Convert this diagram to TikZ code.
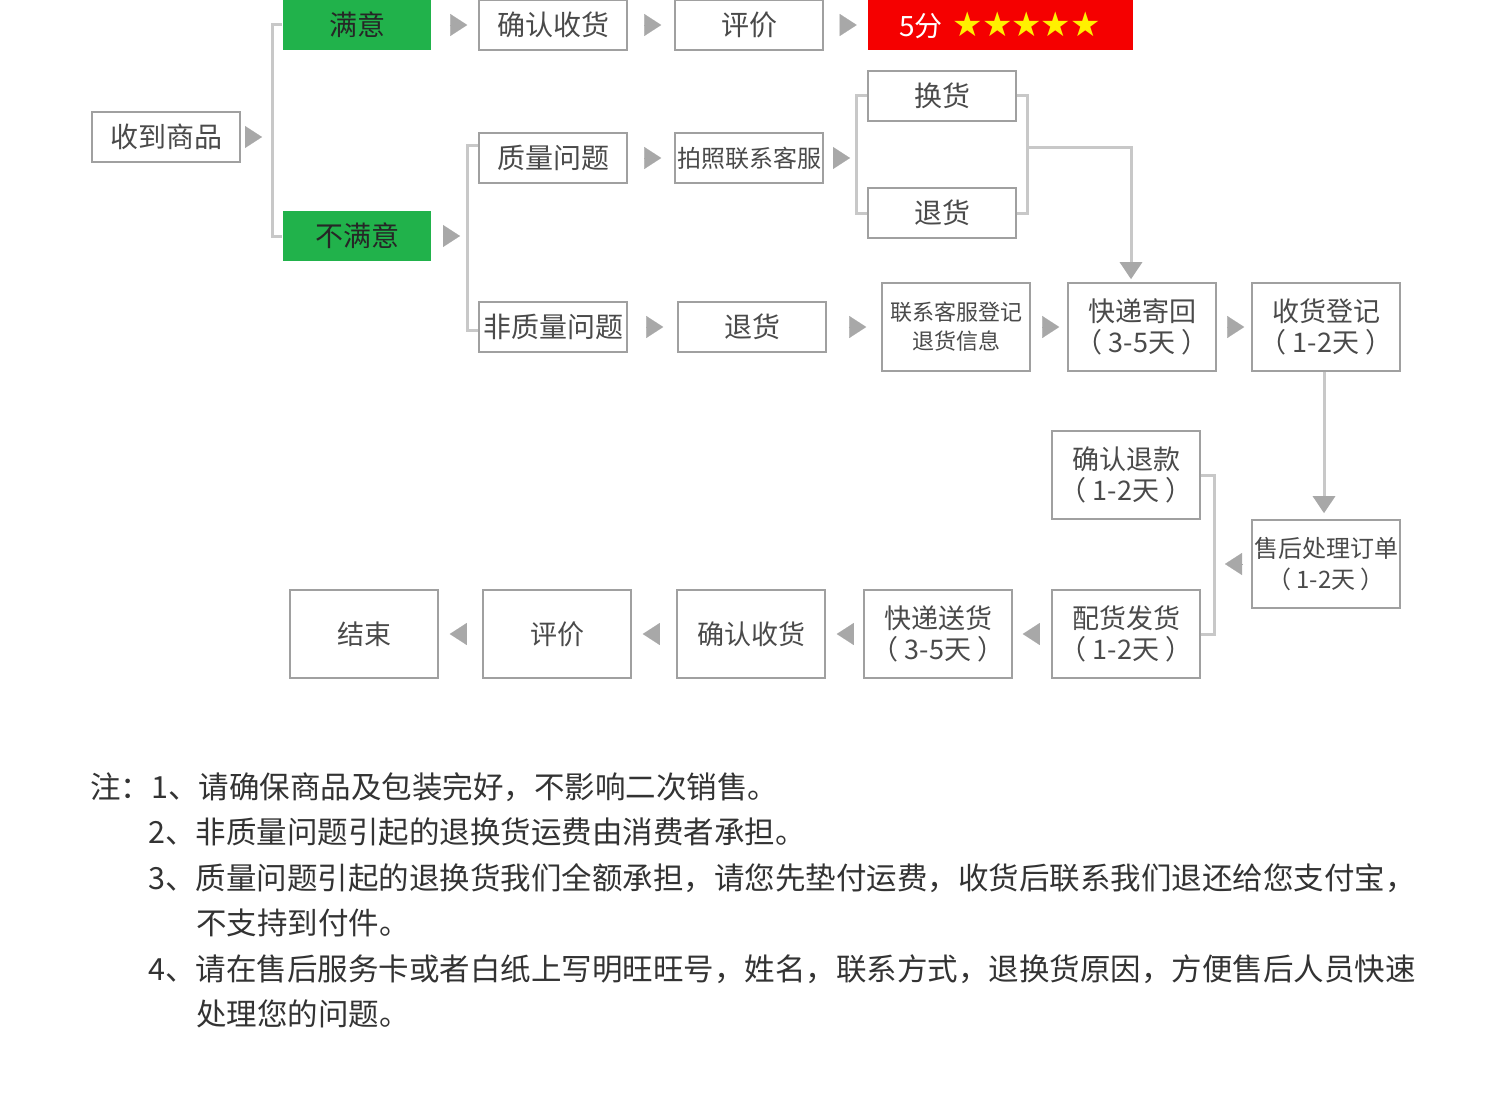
\documentclass[tikz,border=0pt]{standalone}
\usepackage{fontspec}
\setmainfont{Noto Sans CJK SC}
\newfontfamily\symf{DejaVu Sans}
\usetikzlibrary{arrows.meta,calc}

\definecolor{boxline}{HTML}{A0A0A0}
\definecolor{linkgray}{HTML}{C8C8C8}
\definecolor{tipgray}{HTML}{A8A8A8}
\definecolor{txtgray}{HTML}{4A4A4A}
\definecolor{okgreen}{HTML}{21B24B}
\definecolor{scorered}{HTML}{F50000}
\definecolor{staryellow}{HTML}{FFF000}

\tikzset{
  box/.style={draw=boxline, line width=1.6, minimum width=148, minimum height=50,
    inner sep=0, text=txtgray, font=\fontsize{28}{31}\selectfont, align=center},
  tallbox/.style={box, minimum height=88, font=\fontsize{27}{31}\selectfont},
  greenbox/.style={box, draw=none, fill=okgreen, text=black!85},
  link/.style={draw=linkgray, line width=3},
  downtip/.style={-{Triangle[length=17pt,width=22pt,color=tipgray]}},
  nxt/.style args={#1/#2}{draw=tipgray, line width=0.1,
    -{Triangle[length=17pt,width=22pt]}, shorten <=#1, shorten >=#2},
  note/.style={anchor=west, inner sep=0, text=black!80, font=\fontsize{30.5}{34}\selectfont}
}

\begin{document}
\begin{tikzpicture}[x=1pt,y=-1pt,line join=miter]
  \useasboundingbox[fill=white] (0,0) rectangle (1500,1113);

  % first column
  \node[box] (recv) at (166,137) {收到商品};
  \node[greenbox] (ok) at (357,25) {满意};
  \node[greenbox] (nok) at (357,236) {不满意};

  % satisfied
  \node[box] (cf1) at (553,25) {确认收货};
  \node[box] (rate1) at (749,25) {评价};
  \node[box, draw=none, fill=scorered, minimum width=265, text=white] (score) at (1000,25)
    {5分\hspace{10pt}{\symf\fontsize{34}{31}\selectfont\color{staryellow}★\kern-1pt★\kern-1pt★\kern-1pt★\kern-1pt★}};

  % not satisfied
  \node[box] (q) at (553,158) {质量问题};
  \node[box, font=\fontsize{24}{28}\selectfont] (photo) at (749,158) {拍照联系客服};
  \node[box] (swap) at (942,96) {换货};
  \node[box] (ret1) at (942,213) {退货};
  \node[box] (nq) at (553,327) {非质量问题};
  \node[box] (ret2) at (752,327) {退货};
  \node[tallbox, font=\fontsize{22}{29}\selectfont] (reg) at (956,327) {联系客服登记\\退货信息};
  \node[tallbox] (back) at (1142,327) {快递寄回\\（ 3-5天 ）};
  \node[tallbox] (log) at (1326,327) {收货登记\\（ 1-2天 ）};
  \node[tallbox, font=\fontsize{24}{31}\selectfont] (order) at (1326,564) {售后处理订单\\（ 1-2天 ）};
  \node[tallbox] (refund) at (1126,475) {确认退款\\（ 1-2天 ）};
  \node[tallbox] (ship) at (1126,634) {配货发货\\（ 1-2天 ）};
  \node[tallbox] (post) at (938,634) {快递送货\\（ 3-5天 ）};
  \node[tallbox] (cf2) at (751,634) {确认收货};
  \node[tallbox] (rate2) at (557,634) {评价};
  \node[tallbox] (fin) at (364,634) {结束};

  % bracket joints
  \coordinate (j1) at (272,137);
  \coordinate (j2) at (467,236);
  \coordinate (j3) at (856,158);
  \coordinate (j4) at (1027,148);
  \coordinate (j5) at (1214,567);

  % brackets
  \draw[link] (ok.west) -| (j1) |- (nok.west);
  \draw[link] ([yshift=12]q.west) -| (j2) |- ([yshift=-3]nq.west);
  \draw[link] (swap.west) -| (j3) |- (ret1.west);
  \draw[link] (swap.east) -| (j4) |- (ret1.east);
  \draw[link] (refund.east) -| (j5) |- (ship.east);

  % flow arrows
  \draw[nxt={7/10}] (recv.east) -- (recv.east -| j1);
  \draw[nxt={18/11}] (ok) -- (cf1);
  \draw[nxt={18/13}] (cf1) -- (rate1);
  \draw[nxt={17/10}] (rate1) -- (score);
  \draw[nxt={11/7}] (nok.east) -- (nok.east -| j2);
  \draw[nxt={18/13}] (q) -- (photo);
  \draw[nxt={9/6}] (photo.east) -- (photo.east -| j3);
  \draw[nxt={19/14}] (nq) -- (ret2);
  \draw[nxt={22/15}] (ret2) -- (reg);
  \draw[nxt={13/8}] (reg) -- (back);
  \draw[nxt={12/7}] (back) -- (log);
  \draw[link, downtip, shorten >=3] (j4) -| ([xshift=-11]back.north);
  \draw[link, downtip, shorten >=6] ([xshift=-2]log.south) -- ([xshift=-2]order.north);
  \draw[nxt={9/11}] (order.west) -- (order.west -| j5);
  \draw[nxt={12/10}] (ship) -- (post);
  \draw[nxt={11/11}] (post) -- (cf2);
  \draw[nxt={17/11}] (cf2) -- (rate2);
  \draw[nxt={16/11}] (rate2) -- (fin);

  % notes
  \node[note] (n1) at (90,787) {注：1、请确保商品及包装完好，不影响二次销售。};
  \node[note] (n2) at (148,832) {2、非质量问题引起的退换货运费由消费者承担。};
  \node[note] (n3) at (148,878) {3、质量问题引起的退换货我们全额承担，请您先垫付运费，收货后联系我们退还给您支付宝，};
  \node[note] (n3b) at (196,923) {不支持到付件。};
  \node[note] (n4) at (148,969) {4、请在售后服务卡或者白纸上写明旺旺号，姓名，联系方式，退换货原因，方便售后人员快速};
  \node[note] (n4b) at (196,1014) {处理您的问题。};
\end{tikzpicture}
\end{document}
